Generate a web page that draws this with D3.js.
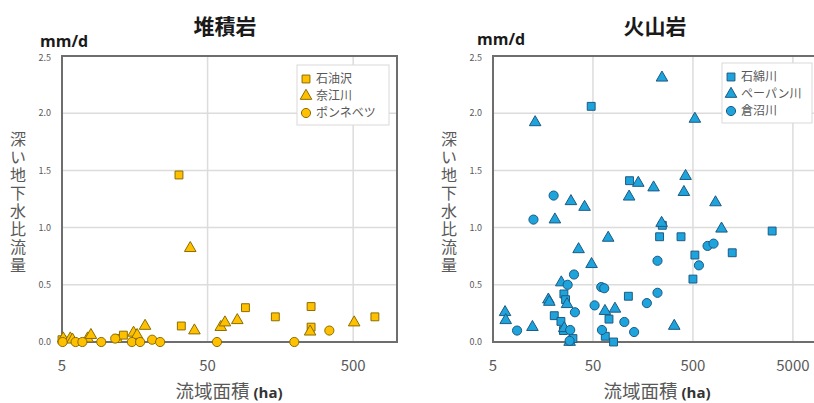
<!DOCTYPE html>
<html>
<head>
<meta charset="utf-8">
<script src="https://cdn.jsdelivr.net/npm/d3@7"></script>
<style>
  body { margin: 0; background: #fff; }
  svg { display: block; font-family: "Noto Sans CJK JP", "Noto Sans", sans-serif; }
</style>
</head>
<body>
<div id="chart"></div>
<script>
// 堆積岩 (sedimentary) — [area ha, mm/d]
const ishiyuzawa = [[5, 0.02], [12, 0.03], [13.2, 0.06], [33, 0.14], [91, 0.30], [146, 0.22], [257, 0.31], [257, 0.13], [705, 0.22], [31.8, 1.46]];
const naegawa = [[5.1, 0.03], [5.7, 0.03], [5.9, 0.02], [7.5, 0.03], [7.9, 0.06], [15.5, 0.08], [16.4, 0.06], [18.6, 0.14], [40.6, 0.10], [61.6, 0.13], [65.8, 0.17], [80, 0.19], [253, 0.09], [508, 0.17], [38, 0.82]];
const ponnebetsu = [[5.05, 0], [6.2, 0], [6.9, 0], [9.3, 0], [11.6, 0.03], [15.1, 0], [17.2, 0], [20.8, 0.02], [23.6, 0], [58, 0], [197, 0], [343, 0.10]];

// 火山岩 (volcanic)
const ishiwata = [[48, 2.06], [116, 1.41], [247, 1.02], [3100, 0.97], [232, 0.92], [380, 0.92], [523, 0.76], [1236, 0.78], [500, 0.55], [25.6, 0.42], [26.6, 0.37], [113, 0.40], [20.5, 0.23], [23.9, 0.18], [25.3, 0.10], [31.5, 0.03], [72.3, 0.20], [66.4, 0.05], [80.3, 0]];
const pepan = [[245, 2.31], [13.2, 1.92], [523, 1.95], [142, 1.39], [202, 1.35], [422, 1.45], [30.1, 1.23], [41.2, 1.18], [115, 1.27], [406, 1.31], [841, 1.22], [20.8, 1.07], [243, 1.04], [966, 0.99], [71, 0.91], [35.9, 0.81], [48.4, 0.68], [24.1, 0.52], [17.9, 0.37], [18.3, 0.35], [27.5, 0.33], [6.6, 0.26], [6.7, 0.19], [12.4, 0.13], [25.8, 0.12], [29.2, 0], [65.9, 0.27], [83, 0.29], [325, 0.14]];
const kuranuma = [[20.2, 1.28], [12.7, 1.07], [700, 0.84], [804, 0.86], [221, 0.71], [574, 0.67], [27.9, 0.50], [32.3, 0.59], [60.5, 0.48], [64.8, 0.47], [221, 0.43], [173, 0.34], [51.9, 0.32], [33, 0.26], [8.7, 0.10], [29.6, 0.105], [61.5, 0.105], [103, 0.175], [129, 0.087], [29.2, 0.01]];

const yTicks = [0, 0.5, 1.0, 1.5, 2.0, 2.5];
const leftXTicks = [5, 50, 500];
const rightXTicks = [5, 50, 500, 5000];

const width = 814, height = 403;
const textGrey = "#595959";

const svg = d3.select("#chart").append("svg")
  .attr("width", width)
  .attr("height", height);

const panels = [
  {
    title: "堆積岩", cx: 225, left: 62, right: 397, xDomain: [5, 1000], xTicks: leftXTicks,
    fill: "#ffc000", stroke: "#8c6d00",
    series: [["石油沢", ishiyuzawa, d3.symbolSquare], ["奈江川", naegawa, d3.symbolTriangle], ["ポンネベツ", ponnebetsu, d3.symbolCircle]],
    legend: { x: 297, y: 65, w: 92, h: 60 }, unitX: 40, unitY: 46.5, xTitleX: 229
  },
  {
    title: "火山岩", cx: 655, left: 493, right: 823, xDomain: [5, 10000], xTicks: rightXTicks,
    fill: "#1ea4dc", stroke: "#1d5a82",
    series: [["石綿川", ishiwata, d3.symbolSquare], ["ペーパン川", pepan, d3.symbolTriangle], ["倉沼川", kuranuma, d3.symbolCircle]],
    legend: { x: 722, y: 63, w: 90, h: 60 }, unitX: 477, unitY: 45, xTitleX: 657
  }
];

const plotTop = 56, plotBottom = 342;
const yScale = d3.scaleLinear([0, 2.5], [plotBottom, plotTop]);

function sizeOf(type) {
  if (type === d3.symbolSquare) return 62;
  if (type === d3.symbolTriangle) return 58;
  return 66;
}

panels.forEach(p => {
  const g = svg.append("g");
  const xScale = d3.scaleLog(p.xDomain, [p.left, p.right]);

  // grid
  g.selectAll("line.hGrid")
    .data(yTicks.slice(1, -1))
    .join("line")
      .attr("x1", p.left).attr("x2", p.right)
      .attr("y1", d => yScale(d)).attr("y2", d => yScale(d))
      .attr("stroke", "#dcdcdc").attr("stroke-width", 1.5);

  g.selectAll("line.vGrid")
    .data(p.xTicks.slice(1))
    .join("line")
      .attr("x1", d => xScale(d)).attr("x2", d => xScale(d))
      .attr("y1", plotTop).attr("y2", plotBottom)
      .attr("stroke", "#dcdcdc").attr("stroke-width", 1.5);

  // frame
  g.append("rect")
    .attr("x", p.left).attr("y", plotTop)
    .attr("width", p.right - p.left).attr("height", plotBottom - plotTop)
    .attr("fill", "none").attr("stroke", "#6e6e6e").attr("stroke-width", 2);

  // y tick labels
  g.selectAll("text.yTick")
    .data(yTicks)
    .join("text")
      .attr("x", p.left - 11)
      .attr("y", d => yScale(d) + (d === 2.5 ? 1.5 : 0))
      .attr("dy", "0.35em")
      .attr("text-anchor", "end")
      .attr("font-size", 9)
      .attr("fill", textGrey)
      .text(d => d.toFixed(1));

  // x tick labels
  g.selectAll("text.xTick")
    .data(p.xTicks)
    .join("text")
      .attr("x", d => xScale(d))
      .attr("y", 371)
      .attr("text-anchor", "middle")
      .attr("font-size", 15)
      .attr("fill", textGrey)
      .text(d => d);

  // title
  g.append("text")
    .attr("x", p.cx).attr("y", 34)
    .attr("text-anchor", "middle")
    .attr("font-size", 21).attr("font-weight", "bold")
    .attr("fill", "#1a1a1a")
    .text(p.title);

  // unit
  g.append("text")
    .attr("x", p.unitX).attr("y", p.unitY)
    .attr("font-size", 16).attr("font-weight", "bold")
    .attr("fill", "#1a1a1a")
    .attr("font-family", "'Open Sans', sans-serif")
    .text("mm/d");

  // y axis title, vertical writing
  g.append("text")
    .attr("x", p.left - 44)
    .attr("y", 131)
    .style("writing-mode", "vertical-rl")
    .style("letter-spacing", "2px")
    .attr("font-size", 16)
    .attr("fill", textGrey)
    .text("深い地下水比流量");

  // x axis title
  const xt = g.append("text")
    .attr("x", p.xTitleX)
    .attr("y", 398)
    .attr("text-anchor", "middle")
    .attr("fill", textGrey);
  xt.append("tspan").attr("font-size", 18.5).text("流域面積 ");
  xt.append("tspan").attr("font-size", 15).attr("font-weight", "bold").attr("fill", "#333")
    .attr("font-family", "'Open Sans', sans-serif").text("(ha)");

  // points
  const pts = g.append("g").attr("class", "content");
  p.series.forEach(([name, data, type]) => {
    pts.selectAll(null)
      .data(data)
      .join("path")
        .attr("transform", d => `translate(${xScale(d[0])},${yScale(d[1])})`)
        .attr("d", d3.symbol(type, sizeOf(type)))
        .attr("fill", p.fill)
        .attr("stroke", p.stroke)
        .attr("stroke-width", 1);
  });

  // legend
  const lg = g.append("g").attr("transform", `translate(${p.legend.x},${p.legend.y})`);
  lg.append("rect")
    .attr("width", p.legend.w).attr("height", p.legend.h)
    .attr("fill", "#fff").attr("stroke", "#d9d9d9");
  p.series.forEach(([name, data, type], i) => {
    const yy = 14 + i * 17;
    lg.append("path")
      .attr("transform", `translate(9,${yy})`)
      .attr("d", d3.symbol(type, sizeOf(type)))
      .attr("fill", p.fill).attr("stroke", p.stroke);
    lg.append("text")
      .attr("x", 19).attr("y", yy).attr("dy", "0.36em")
      .attr("font-size", 12).attr("fill", textGrey)
      .text(name);
  });
});
</script>
</body>
</html>
